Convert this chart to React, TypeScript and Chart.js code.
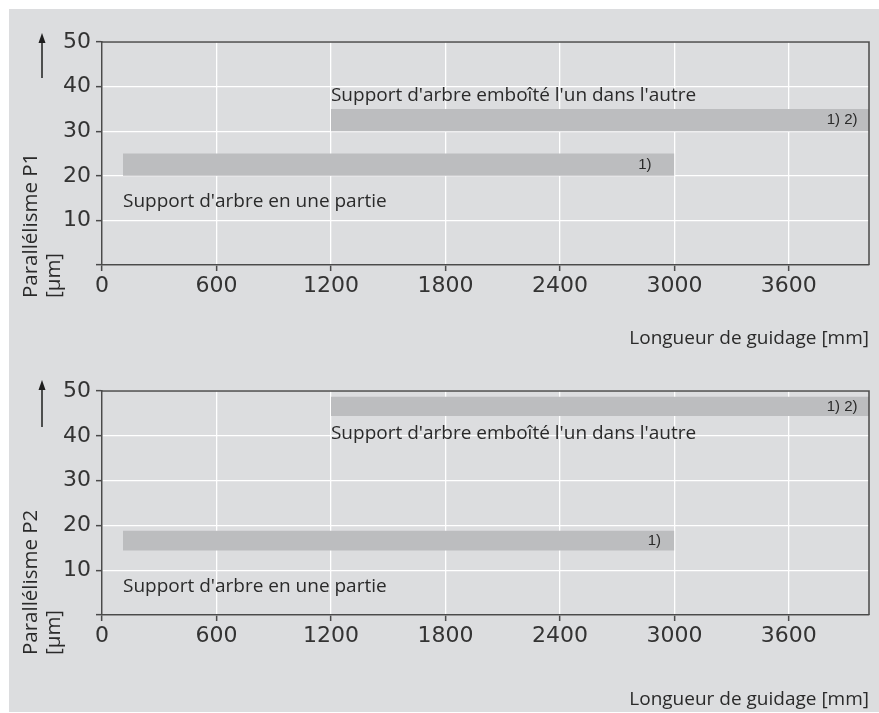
import React, { useEffect, useRef } from 'react';
import { Chart, registerables } from 'chart.js';

Chart.register(...registerables);

// ---------- data ----------
const X_TICKS = [0, 600, 1200, 1800, 2400, 3000, 3600];
const Y_TICKS = [0, 10, 20, 30, 40, 50];
const X_MAX = 4020;
const Y_MAX = 50;

// Parallélisme P1 bands: [start, end] along guide length, [low, high] in µm
const P1_SINGLE_X = [110, 3000];
const P1_SINGLE_Y = [20, 25];
const P1_NESTED_X = [1200, 4020];
const P1_NESTED_Y = [30, 35];

// Parallélisme P2 bands
const P2_SINGLE_X = [110, 3000];
const P2_SINGLE_Y = [14.4, 18.8];
const P2_NESTED_X = [1200, 4020];
const P2_NESTED_Y = [44.4, 48.7];

const LABEL_NESTED = "Support d'arbre emboîté l'un dans l'autre";
const LABEL_SINGLE = "Support d'arbre en une partie";
const NOTE_SINGLE = '1)';
const NOTE_NESTED = '1) 2)';
const X_TITLE = 'Longueur de guidage [mm]';
const P1_TITLE = ['Parallélisme P1', '[µm]'];
const P2_TITLE = ['Parallélisme P2', '[µm]'];

// text anchors in data units
const P1_LABELS = [
  { text: LABEL_NESTED, x: 1200, y: 37.9, align: 'left', kind: 'label' },
  { text: LABEL_SINGLE, x: 110, y: 14.3, align: 'left', kind: 'label' },
  { text: NOTE_SINGLE, x: 2880, y: 22.5, align: 'right', kind: 'note' },
  { text: NOTE_NESTED, x: 3960, y: 32.5, align: 'right', kind: 'note' },
];
const P2_LABELS = [
  { text: LABEL_NESTED, x: 1200, y: 40.6, align: 'left', kind: 'label' },
  { text: LABEL_SINGLE, x: 110, y: 6.3, align: 'left', kind: 'label' },
  { text: NOTE_SINGLE, x: 2930, y: 16.6, align: 'right', kind: 'note' },
  { text: NOTE_NESTED, x: 3960, y: 46.55, align: 'right', kind: 'note' },
];

// ---------- styles ----------
const BG = '#dcdddf';
const BAR = '#bcbdbf';
const AXIS = '#4a4a4a';
const TEXT = '#2a2a2a';
const TEXT_FONT = '"Open Sans", "Noto Sans", sans-serif';
const NUM_FONT = '"DejaVu Sans", sans-serif';
const NOTE_FONT = '"Liberation Sans", Arial, sans-serif';

function band(xs: number[], ys: number[]) {
  const line = {
    type: 'line' as const,
    borderColor: 'rgba(0,0,0,0)',
    borderWidth: 0,
    pointRadius: 0,
    tension: 0,
  };
  return [
    { ...line, data: [{ x: xs[0], y: ys[1] }, { x: xs[1], y: ys[1] }], fill: false },
    { ...line, data: [{ x: xs[0], y: ys[0] }, { x: xs[1], y: ys[0] }], fill: '-1', backgroundColor: BAR },
  ];
}

const decorPlugin = {
  id: 'decor',
  afterDatasetsDraw(chart: any, _args: any, opts: any) {
    const { ctx, chartArea: a, scales } = chart;
    const xs = scales.x;
    const ys = scales.y;
    ctx.save();
    // frame top / right
    ctx.strokeStyle = AXIS;
    ctx.lineWidth = 1.5;
    ctx.beginPath();
    ctx.moveTo(a.left, a.top);
    ctx.lineTo(a.right, a.top);
    ctx.lineTo(a.right, a.bottom);
    ctx.stroke();

    // annotations
    ctx.textBaseline = 'middle';
    for (const l of opts.labels) {
      ctx.fillStyle = TEXT;
      ctx.font = l.kind === 'note' ? `15px ${NOTE_FONT}` : `19px ${TEXT_FONT}`;
      ctx.textAlign = l.align;
      ctx.fillText(l.text, xs.getPixelForValue(l.x), ys.getPixelForValue(l.y));
    }

    // arrow
    const ax = opts.arrowX;
    const tip = a.top - opts.arrowAbove;
    const tail = a.top + opts.arrowBelow;
    ctx.strokeStyle = '#1e1e1e';
    ctx.fillStyle = '#1e1e1e';
    ctx.lineWidth = 1.5;
    ctx.beginPath();
    ctx.moveTo(ax, tail);
    ctx.lineTo(ax, tip + 6);
    ctx.stroke();
    ctx.beginPath();
    ctx.moveTo(ax, tip);
    ctx.lineTo(ax - 3.5, tip + 10);
    ctx.lineTo(ax + 3.5, tip + 10);
    ctx.closePath();
    ctx.fill();

    // y title (rotated, two lines)
    ctx.font = `20.5px ${TEXT_FONT}`;
    ctx.fillStyle = TEXT;
    ctx.textAlign = 'left';
    ctx.textBaseline = 'middle';
    opts.yTitle.forEach((t: string, i: number) => {
      ctx.save();
      ctx.translate(opts.yTitleX + i * opts.yTitleGap, a.bottom + opts.yTitleBelow);
      ctx.rotate(-Math.PI / 2);
      ctx.fillText(t, 0, 0);
      ctx.restore();
    });
    ctx.restore();
  },
};

type Cfg = {
  height: number;
  areaTop: number;
  areaBottom: number;
  xTitlePad: number;
  yTitleBelow: number;
  arrowAbove: number;
  labels: any[];
  yTitle: string[];
  bands: number[][][];
};

const WIDTH = 870;
const AREA_LEFT = 93;
const AREA_RIGHT = 860;

function BandChart({ cfg, top }: { cfg: Cfg; top: number }) {
  const ref = useRef<HTMLCanvasElement | null>(null);
  useEffect(() => {
    const canvas = ref.current;
    if (!canvas) return;
    const datasets = cfg.bands.flatMap(([xs, ys]) => band(xs, ys));
    const tickFont = { family: NUM_FONT, size: 22 };
    const chart = new Chart(canvas, {
      type: 'line',
      data: { datasets: datasets as any },
      plugins: [decorPlugin],
      options: {
        responsive: false,
        animation: false,
        events: [],
        layout: { padding: { left: 0, top: cfg.areaTop, right: WIDTH - AREA_RIGHT, bottom: 0 } },
        plugins: {
          legend: { display: false },
          tooltip: { enabled: false },
          decor: {
            labels: cfg.labels,
            arrowX: 33,
            arrowAbove: cfg.arrowAbove,
            arrowBelow: 36,
            yTitle: cfg.yTitle,
            yTitleX: 22.5,
            yTitleGap: 23,
            yTitleBelow: cfg.yTitleBelow,
          },
        } as any,
        scales: {
          x: {
            type: 'linear',
            min: 0,
            max: X_MAX,
            afterBuildTicks: (s: any) => {
              s.ticks = X_TICKS.map((v) => ({ value: v }));
            },
            afterFit: (s: any) => {
              s.height = cfg.height - cfg.areaBottom;
            },
            grid: { color: '#ffffff', lineWidth: 1.3, tickLength: 6, tickColor: AXIS, tickWidth: 1.5 },
            border: { color: AXIS, width: 1.5 },
            ticks: {
              font: tickFont,
              color: '#333',
              padding: 2,
              maxRotation: 0,
              autoSkip: false,
              callback: (v: any) => String(v),
            },
            title: {
              display: true,
              text: X_TITLE,
              align: 'end',
              color: TEXT,
              font: { family: TEXT_FONT, size: 19 },
              padding: { top: 0, bottom: cfg.xTitlePad },
            },
          },
          y: {
            type: 'linear',
            min: 0,
            max: Y_MAX,
            afterBuildTicks: (s: any) => {
              s.ticks = Y_TICKS.map((v) => ({ value: v }));
            },
            afterFit: (s: any) => {
              s.width = AREA_LEFT;
            },
            grid: { color: '#ffffff', lineWidth: 1.3, tickLength: 6, tickColor: AXIS, tickWidth: 1.5 },
            border: { color: AXIS, width: 1.5 },
            ticks: {
              font: tickFont,
              color: '#333',
              padding: 5,
              autoSkip: false,
              callback: (v: any) => (v === 0 ? '' : String(v)),
            },
          },
        },
      } as any,
    });
    return () => chart.destroy();
  }, [cfg]);
  return (
    <canvas
      ref={ref}
      width={WIDTH}
      height={cfg.height}
      style={{ position: 'absolute', left: 0, top, width: WIDTH, height: cfg.height }}
    />
  );
}

const TOP_CFG: Cfg = {
  height: 346,
  areaTop: 33,
  areaBottom: 256,
  xTitlePad: 5,
  yTitleBelow: 33,
  arrowAbove: 9,
  labels: P1_LABELS,
  yTitle: P1_TITLE,
  bands: [
    [P1_SINGLE_X, P1_SINGLE_Y],
    [P1_NESTED_X, P1_NESTED_Y],
  ],
};

const BOTTOM_CFG: Cfg = {
  height: 357,
  areaTop: 36,
  areaBottom: 260,
  xTitlePad: 1,
  yTitleBelow: 40,
  arrowAbove: 11,
  labels: P2_LABELS,
  yTitle: P2_TITLE,
  bands: [
    [P2_SINGLE_X, P2_SINGLE_Y],
    [P2_NESTED_X, P2_NESTED_Y],
  ],
};

export default function App() {
  return (
    <div
      style={{
        position: 'absolute',
        left: 9,
        top: 9,
        width: WIDTH,
        height: 703,
        background: BG,
        overflow: 'hidden',
      }}
    >
      <BandChart cfg={TOP_CFG} top={0} />
      <BandChart cfg={BOTTOM_CFG} top={346} />
    </div>
  );
}
